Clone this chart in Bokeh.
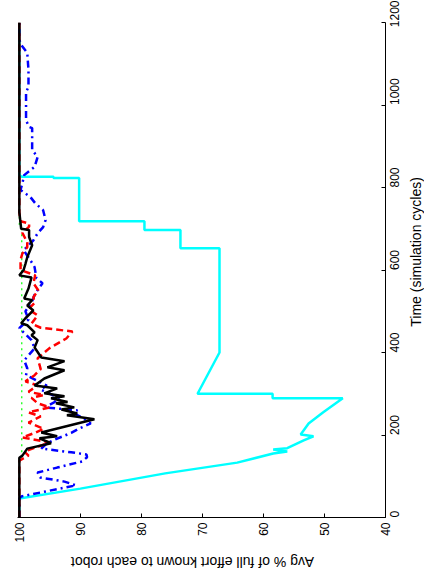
import math
from bokeh.plotting import figure
from bokeh.models import Range1d, FixedTicker
from bokeh.layouts import row, column
from bokeh.core.properties import value
from bokeh.embed import file_html
from bokeh.resources import INLINE

# ---- data (time in simulation cycles, avg % of full effort) ----
cyan_t = [0, 46, 70, 107, 133, 155, 160, 165, 168, 187, 197, 201, 228, 255, 289, 289, 300, 300,
          400, 653, 653, 697, 697, 718, 718, 823, 823, 826, 826, 830, 1200]
cyan_p = [100, 100, 90.0, 76.1, 64.3, 58.4, 56.1, 58.4, 56.1, 53.4, 51.8, 53.9, 52.6, 50.2, 47.0, 58.5, 58.5, 70.8,
          67.2, 67.2, 73.6, 73.6, 79.5, 79.5, 90.2, 90.2, 94.4, 94.4, 99.6, 100, 100]

black_t = [0, 145, 150, 167, 180, 192, 197, 206, 238, 248, 252, 262, 267, 277, 280, 289, 294, 301, 313, 320,
           337, 357, 364, 379, 388, 412, 430, 442, 449, 466, 471, 483, 502, 514, 527, 531, 555, 582, 587,
           600, 615, 631, 660, 680, 697, 700, 740, 1200]
black_p = [100, 100, 99.5, 98.7, 94.8, 96.7, 93.8, 96.4, 87.7, 92.2, 90.5, 93.1, 91.0, 94.0, 92.1, 94.8, 92.6, 95.9, 93.8, 97.5,
           95.9, 92.6, 95.4, 92.6, 96.4, 97.5, 97.0, 98.0, 97.5, 98.7, 99.7, 99.0, 97.7, 98.7, 97.9, 99.2, 98.5, 98.0, 100,
           99.3, 99.0, 98.7, 97.9, 98.4, 98.4, 99.7, 100, 100]

red_t = [0, 138, 150, 160, 182, 194, 205, 215, 230, 245, 255, 267, 277, 290, 297, 305, 320, 330, 345, 360,
         386, 410, 434, 451, 460, 470, 490, 505, 520, 534, 551, 568, 587, 600, 625, 640, 655, 667, 690, 705,
         713, 718, 740, 1200]
red_p = [100, 100, 98.5, 99.2, 95.0, 99.5, 97.5, 96.0, 98.5, 96.5, 98.5, 95.0, 97.0, 98.0, 96.0, 98.5, 97.0, 99.0, 97.5, 96.5,
         97.0, 95.1, 92.3, 91.3, 96.5, 98.0, 97.0, 98.5, 97.5, 97.7, 96.9, 97.7, 97.4, 99.8, 99.8, 99.5, 98.7, 98.7, 99.5, 98.4,
         98.4, 99.8, 100, 100]

blue_t = [0, 46, 51, 78, 87, 97, 109, 121, 136, 146, 153, 158, 167, 180, 190, 205, 215, 228, 240, 252,
          260, 267, 279, 290, 300, 310, 320, 345, 362, 381, 410, 430, 459, 466, 480, 500, 520, 540, 558, 568,
          580, 607, 624, 648, 672, 689, 704, 721, 745, 762, 777, 794, 810, 830, 850, 874, 891, 920, 944, 947,
          963, 995, 1031, 1044, 1085, 1126, 1146, 1158, 1200]
blue_p = [100, 100, 99.7, 90.7, 92.6, 96.6, 97.0, 93.8, 89.7, 88.9, 89.0, 91.5, 96.4, 95.5, 94.0, 91.5, 90.3, 88.3, 89.5, 91.0,
          90.5, 95.9, 94.3, 93.5, 95.0, 96.5, 95.5, 98.9, 98.7, 99.2, 97.5, 98.0, 100, 99.5, 98.5, 99.0, 98.0, 97.5, 96.7, 96.2,
          97.2, 97.5, 98.2, 99.3, 97.7, 97.0, 96.1, 95.7, 96.1, 97.4, 98.2, 99.8, 99.5, 99.2, 97.5, 97.0, 97.9, 97.9, 97.9, 98.4,
          98.9, 98.9, 98.9, 98.5, 98.5, 98.7, 99.7, 100, 100]

green_t = [0, 140, 150, 700, 710, 1200]
green_p = [100, 100, 99.6, 99.6, 100, 100]

pct_ticks = [40, 50, 60, 70, 80, 90, 100]
time_ticks = [0, 200, 400, 600, 800, 1000, 1200]
pct_label = "Avg % of full effort known to each robot"
time_label = "Time (simulation cycles)"

FONT = "Liberation Sans"
MAIN_W, MAIN_H = 408, 548

p = figure(width=MAIN_W, height=MAIN_H,
           x_range=Range1d(100.3, 40), y_range=Range1d(0, 1200),
           x_axis_location="below", y_axis_location="right",
           output_backend="svg", toolbar_location=None,
           min_border_left=17, min_border_top=22, min_border_right=23, min_border_bottom=31)
p.outline_line_color = None
p.grid.visible = False
p.background_fill_color = "white"
p.border_fill_color = "white"

# series (pct on horizontal, time on vertical: rotated view)
p.line(cyan_p, cyan_t, line_color="#00FFFF", line_width=2.5)
p.line(green_p, green_t, line_color="#00FF00", line_width=1.2, line_dash="2 4")
p.line(blue_p, blue_t, line_color="#0000FF", line_width=2.5, line_dash="7 4 2 4")
p.line(red_p, red_t, line_color="#FF0000", line_width=2.5, line_dash="7 4")
p.line(black_p, black_t, line_color="black", line_width=2.5)

xa = p.xaxis[0]
xa.ticker = FixedTicker(ticks=pct_ticks)
ya = p.yaxis[0]
ya.ticker = FixedTicker(ticks=time_ticks)
for ax in (xa, ya):
    ax.major_tick_in = 4
    ax.major_tick_out = 0
    ax.minor_tick_in = 0
    ax.minor_tick_out = 0
    ax.axis_line_color = "black"
    ax.axis_line_width = 1
    ax.major_tick_line_color = "black"
    ax.major_label_text_font = FONT
    ax.major_label_text_font_size = "12px"
    ax.major_label_text_color = "black"
    ax.major_label_orientation = math.pi / 2
xa.major_label_standoff = 5
ya.major_label_standoff = 9


def title_strip(w, h, text, angle, tx, ty):
    f = figure(width=w, height=h, x_range=Range1d(0, w), y_range=Range1d(0, h),
               x_axis_type=None, y_axis_type=None, output_backend="svg", toolbar_location=None,
               min_border=0)
    f.outline_line_color = None
    f.background_fill_color = "white"
    f.border_fill_color = "white"
    f.text(x=[tx], y=[ty], text=[text], angle=angle, text_align="center", text_baseline="middle",
           text_font=value(FONT), text_font_size="14px", text_color="black")
    return f


# right strip: time axis title reading bottom-to-top
r_strip = title_strip(16, MAIN_H, time_label, math.pi / 2, 7, MAIN_H - 254)
# bottom strip: effort axis title upside-down
b_strip = title_strip(MAIN_W, 26, pct_label, math.pi, 192, 13)

layout = column(row(p, r_strip), b_strip)

open("out.html", "w").write(file_html(layout, INLINE))
